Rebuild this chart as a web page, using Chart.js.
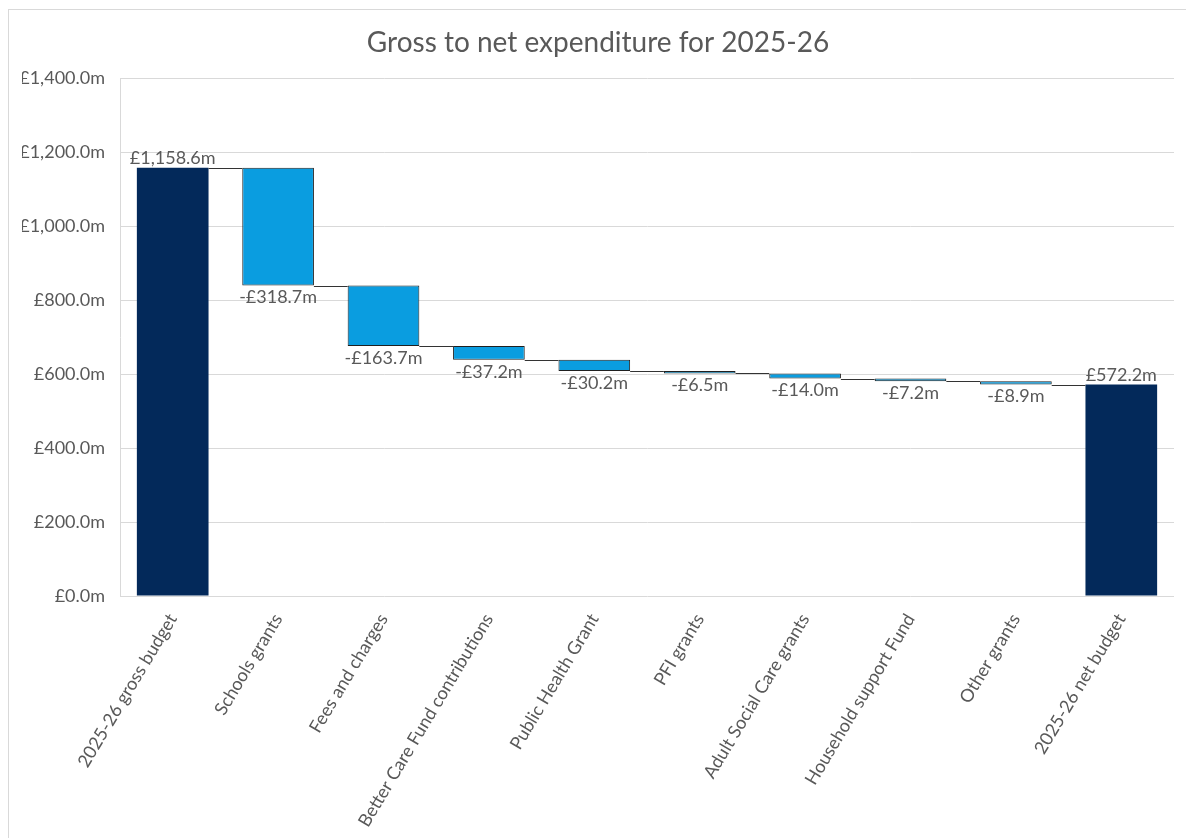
<!DOCTYPE html>
<html>
<head>
<meta charset="utf-8">
<script src="https://cdn.jsdelivr.net/npm/chart.js@4/dist/chart.umd.min.js"></script>
<style>
  body { margin: 0; background: #fff; }
  #frame { position: absolute; left: 8px; top: 9px; width: 1200px; height: 900px; border: 1px solid #d9d9d9; }
  #wrap { position: absolute; left: 0; top: 0; width: 1186px; height: 838px; }
</style>
</head>
<body>
<div id="frame"></div>
<div id="wrap"><canvas id="myChart" width="1186" height="838"></canvas></div>
<script>
const categories = ['2025-26 gross budget', 'Schools grants', 'Fees and charges', 'Better Care Fund contributions',
  'Public Health Grant', 'PFI grants', 'Adult Social Care grants', 'Household support Fund', 'Other grants', '2025-26 net budget']
const amounts = [1158.6, -318.7, -163.7, -37.2, -30.2, -6.5, -14.0, -7.2, -8.9, 572.2]
const isTotal = [true, false, false, false, false, false, false, false, false, true]
const yTicks = [0, 200, 400, 600, 800, 1000, 1200, 1400]

const navy = '#03295a'
const blue = '#0a9de0'
const grey = '#595959'
const font = 'Lato'

// floating bars + running totals
let running = 0
const bars = []
const levels = []
amounts.forEach((v, i) => {
  if (isTotal[i]) {
    bars.push([0, v])
    running = v
  } else {
    bars.push([running + v, running])
    running = running + v
  }
  levels.push(running)
})

const fmt = v => (v < 0 ? '-' : '') + '£' + Math.abs(v).toLocaleString('en-GB', { minimumFractionDigits: 1, maximumFractionDigits: 1 }) + 'm'

const extras = {
  id: 'extras',
  afterDatasetsDraw(chart) {
    const c = chart.ctx
    const meta = chart.getDatasetMeta(0)
    const y = chart.scales.y
    c.save()
    // connector lines
    c.strokeStyle = '#333'
    c.lineWidth = 1
    for (let i = 0; i < meta.data.length - 1; i++) {
      const a = meta.data[i], b = meta.data[i + 1]
      const py = Math.round(y.getPixelForValue(levels[i])) + 0.5
      c.beginPath()
      c.moveTo(a.x + a.width / 2, py)
      c.lineTo(b.x - b.width / 2, py)
      c.stroke()
    }
    // value labels
    c.fillStyle = grey
    c.font = '18px ' + font
    c.textAlign = 'center'
    meta.data.forEach((el, i) => {
      if (isTotal[i]) {
        c.textBaseline = 'alphabetic'
        c.fillText(fmt(amounts[i]), el.x, y.getPixelForValue(bars[i][1]) - 4)
      } else {
        c.textBaseline = 'top'
        c.fillText(fmt(amounts[i]), el.x, y.getPixelForValue(bars[i][0]) + 3)
      }
    })
    c.restore()
  }
}

const ctx = document.getElementById('myChart')

const myChart = new Chart(ctx, {
  type: 'bar',
  data: {
    labels: categories,
    datasets: [{
      data: bars,
      backgroundColor: isTotal.map(t => t ? navy : blue),
      borderColor: isTotal.map(t => t ? navy : '#1f1f1f'),
      borderWidth: isTotal.map(t => t ? 0 : 1),
      borderSkipped: false,
      categoryPercentage: 0.68,
      barPercentage: 1
    }]
  },
  options: {
    responsive: false,
    animation: false,
    layout: { padding: { left: 22, right: 12, top: 0, bottom: 0 } },
    plugins: {
      legend: { display: false },
      tooltip: { enabled: false },
      title: {
        display: true,
        text: 'Gross to net expenditure for 2025-26',
        color: grey,
        font: { family: font, size: 28, weight: 'normal', lineHeight: 1.2 },
        padding: { top: 26, bottom: 19 }
      }
    },
    scales: {
      x: {
        grid: { display: false, drawTicks: false },
        border: { display: false },
        ticks: {
          color: grey,
          font: { family: font, size: 18 },
          minRotation: 59,
          maxRotation: 59,
          padding: 14,
          autoSkip: false
        },
        afterFit(scale) { scale.height = 242 }
      },
      y: {
        min: 0,
        max: 1400,
        afterBuildTicks(scale) { scale.ticks = yTicks.map(v => ({ value: v })) },
        grid: { color: '#d9d9d9', drawTicks: false },
        border: { display: true, color: '#d9d9d9' },
        ticks: {
          color: grey,
          font: { family: font, size: 18 },
          padding: 15,
          callback: v => '£' + v.toLocaleString('en-GB', { minimumFractionDigits: 1 }) + 'm'
        },
        afterFit(scale) { scale.width = 98 }
      }
    }
  },
  plugins: [extras]
})
</script>
</body>
</html>
